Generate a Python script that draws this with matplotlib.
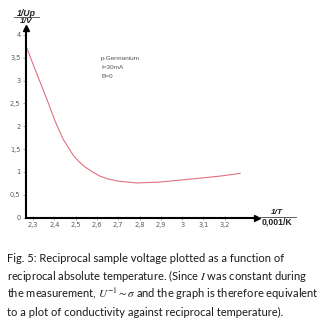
import matplotlib
matplotlib.use("Agg")
import matplotlib.pyplot as plt
from matplotlib.ticker import FuncFormatter

# 1/T in units of 0.001/K and 1/Up in 1/V
inv_temp = [2.267, 2.300, 2.333, 2.366, 2.403, 2.420, 2.441, 2.460, 2.488, 2.515, 2.544,
            2.580, 2.614, 2.650, 2.699, 2.788, 2.896, 3.051, 3.178, 3.272]
inv_volt = [3.76, 3.36, 2.97, 2.58, 2.12, 1.94, 1.72, 1.58, 1.37, 1.23, 1.11,
            1.00, 0.91, 0.85, 0.80, 0.76, 0.78, 0.85, 0.91, 0.97]

x_ticks = [2.3, 2.4, 2.5, 2.6, 2.7, 2.8, 2.9, 3.0, 3.1, 3.2]
y_ticks = [0, 0.5, 1, 1.5, 2, 2.5, 3, 3.5, 4]
sample_info = ["p-Germanium", "I=30mA", "B=0"]
caption = [
    "Fig. 5: Reciprocal sample voltage plotted as a function of",
    "reciprocal absolute temperature. (Since $I$ was constant during",
    "the measurement, $U^{-1}{\\sim}\\sigma$ and the graph is therefore equivalent",
    "to a plot of conductivity against reciprocal temperature).",
]

W, H = 327, 326
plt.rcParams["mathtext.fontset"] = "stix"
fig = plt.figure(figsize=(W / 100, H / 100), dpi=100)

# axes box in pixel coordinates
x0, x1 = 26, 257
y0, y1 = 217.7, 28
ax = fig.add_axes([x0 / W, 1 - y0 / H, (x1 - x0) / W, (y0 - y1) / H])
ax.set_xlim(2.267, 2.267 + (x1 - x0) / 213)
ax.set_ylim(0, (y0 - y1) / 45.7)

ax.plot(inv_temp, inv_volt, color="#e07080", lw=0.8, solid_joinstyle="round")

for s in ["top", "right"]:
    ax.spines[s].set_visible(False)
for s in ["left", "bottom"]:
    ax.spines[s].set_linewidth(1.5)
ax.plot(0, 1, "^k", ms=4, transform=ax.transAxes, clip_on=False)
ax.plot(1, 0, ">k", ms=4, transform=ax.transAxes, clip_on=False)

fmt = FuncFormatter(lambda v, p: ("%g" % v).replace(".", ","))
ax.set_xticks(x_ticks)
ax.set_yticks(y_ticks)
ax.xaxis.set_major_formatter(fmt)
ax.yaxis.set_major_formatter(fmt)
ax.tick_params(axis="both", labelsize=4.8, labelcolor="#5a5a5a", color="#888888",
               length=2.5, width=0.5, pad=1.5)
ax.tick_params(axis="x", direction="inout", length=3)

for i, line in enumerate(sample_info):
    fig.text(101 / W, 1 - (58.3 + 9.2 * i) / H, line, fontsize=4.6, color="#555555",
             family="Liberation Sans", va="center")

# axis titles drawn as fractions
tkw = dict(weight="bold", family="Liberation Sans", ha="center", va="center",
           color="#222222")
fig.text(26 / W, 1 - 13.3 / H, "1/Up", fontsize=6.3, style="italic", **tkw)
fig.add_artist(plt.Line2D([14 / W, 39 / W], [1 - 17.3 / H] * 2, color="#444444", lw=0.6))
fig.text(26 / W, 1 - 21.2 / H, "1/V", fontsize=6.0, style="italic", **tkw)

fig.text(277 / W, 1 - 212 / H, "1/T", fontsize=6.0, style="italic", **tkw)
fig.add_artist(plt.Line2D([258 / W, 296 / W], [1 - 216.5 / H] * 2, color="#444444", lw=0.6))
fig.text(277 / W, 1 - 221.5 / H, "0,001/K", fontsize=6.3, **tkw)

for i, line in enumerate(caption):
    fig.text(7 / W, 1 - (258.3 + 18 * i) / H, line, fontsize=8.0,
             family="Lato", color="#1a1a1a", va="center")

fig.savefig("out.png", dpi=100)
